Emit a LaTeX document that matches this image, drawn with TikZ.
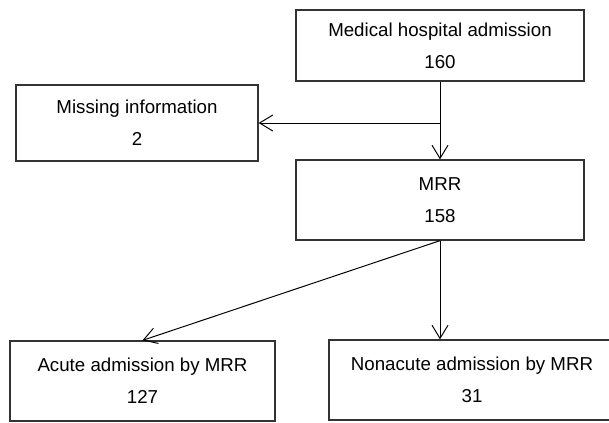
\documentclass[tikz,border=0pt]{standalone}
\usepackage{fontspec}
\setmainfont{Liberation Sans}
\usetikzlibrary{arrows.meta}
\begin{document}
\begin{tikzpicture}[x=0.025cm, y=-0.025cm, box/.style={draw=black!80, rectangle, line width=0.9pt, inner sep=0pt, align=center, font=\fontsize{13.3}{23}\selectfont}, n/.style={-{Straight Barb[length=0.33cm, width=0.4cm]}, line width=0.7pt}]
            \clip (0,0) rectangle (609,422);
            % nodes
            \node[box, minimum width=7.2cm, minimum height=1.775cm] (adm) at (440,45.5) {Medical hospital admission\\160};
            \node[box, minimum width=6.05cm, minimum height=1.9cm] (miss) at (137,123) {Missing information\\2};
            \node[box, minimum width=7.2cm, minimum height=2cm] (mrr) at (440,200) {MRR\\158};
            \node[box, minimum width=6.625cm, minimum height=2cm] (acute) at (142.5,381) {Acute admission by MRR\\127};
            \node[box, minimum width=7.15cm, minimum height=2cm] (nonacute) at (472,380) {Nonacute admission by MRR\\31};
            \coordinate (split) at (440,123);
            % edges
            \draw [n] (adm.south) -- (adm.south |- mrr.north);
            \draw [n] (split) -- (miss.east);
            \draw [n] (mrr.south) -- (acute.north);
            \draw [n] (mrr.south) -- (mrr.south |- nonacute.north);
\end{tikzpicture}
\end{document}
